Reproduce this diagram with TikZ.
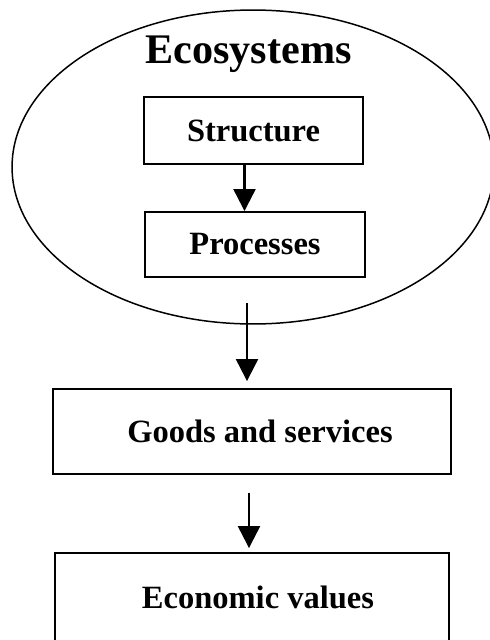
\documentclass[tikz,border=0pt]{standalone}
\usepackage{fontspec}
\setmainfont{Liberation Serif}
\usetikzlibrary{arrows.meta, shapes.geometric}

\begin{document}
\begin{tikzpicture}[x=0.02cm, y=-0.02cm,
	box/.style={draw, line width=1.1pt, inner sep=0pt, font=\bfseries\fontsize{18.5}{22}\selectfont},
	flow/.style={-{Triangle[length=0.44cm, width=0.44cm]}, line width=1.3pt}]
	\useasboundingbox (0, 0) rectangle (490, 640);
	\clip (0, 0) rectangle (490, 640);
	
	% ecosystem
	\node [ellipse, draw, line width=0.85pt, minimum width=9.64cm, minimum height=6.28cm] (eco) at (253, 167) {};
	\node [anchor=base, font=\bfseries\fontsize{24}{28}\selectfont] (ecotitle) at (248.5, 63) {Ecosystems};
	
	% modules
	\node [box, minimum width=4.38cm, minimum height=1.34cm] (struct) at (253.5, 130.5) {Structure};
	\node [box, minimum width=4.4cm, minimum height=1.3cm] (proc) at (255, 244.5) {Processes};
	\node [box, minimum width=7.96cm, minimum height=1.7cm] (goods) at (252, 431.5) {\hspace*{0.32cm}Goods and services};
	\node [box, minimum width=7.88cm, minimum height=1.76cm] (econ) at (252, 597) {\hspace*{0.24cm}Economic values};
	
	% lines
	\draw [flow] ([xshift=-0.18cm]struct.south) -- ([xshift=-0.18cm]struct.south |- proc.north);
	\draw [flow, shorten <=0.5cm, shorten >=0.14cm] ([xshift=-0.1cm]goods.north |- proc.south) -- ([xshift=-0.1cm]goods.north);
	\draw [flow, shorten <=0.36cm, shorten >=0.08cm] ([xshift=-0.06cm]goods.south) -- ([xshift=-0.06cm]goods.south |- econ.north);
\end{tikzpicture}
\end{document}
